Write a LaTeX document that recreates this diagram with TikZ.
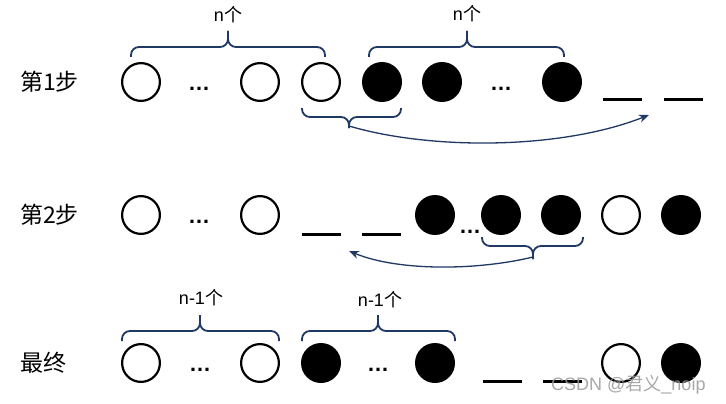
\documentclass[tikz,border=0pt]{standalone}
\usepackage{fontspec}
\setmainfont{Liberation Sans}
\newfontfamily\cjk{Noto Sans CJK SC}
\usetikzlibrary{arrows.meta}
\definecolor{navy}{RGB}{31,56,100}
\newcommand{\mybrace}[6]{% x1 x2 xm yend yline ytip
  \draw[bracestyle] (#1,#4) -- (#1,#5) -- (#3,#5) -- (#3,#6);
  \draw[bracestyle] (#2,#4) -- (#2,#5) -- (#3,#5) -- (#3,#6);
}
\newcommand{\myge}{{\cjk 个}}
\begin{document}
\begin{tikzpicture}[x=1pt,y=-1pt,
  wball/.style={circle,draw=black,line width=2.2pt,minimum size=37.8pt,inner sep=0pt,fill=white},
  bball/.style={circle,fill=black,minimum size=40pt,inner sep=0pt},
  gap/.style={rectangle,fill=black,minimum width=39pt,minimum height=3pt,inner sep=0pt},
  dots/.style={inner sep=0pt,font=\bfseries\fontsize{22}{22}\selectfont},
  rowlabel/.style={inner sep=0pt,anchor=west,font=\cjk\fontsize{23}{23}\selectfont},
  countlabel/.style={inner sep=0pt,font=\fontsize{18}{18}\selectfont},
  bracestyle/.style={draw=navy,line width=1.8pt,rounded corners=8pt},
  movearrow/.style={draw=navy,line width=1.3pt,-{Stealth[length=10pt,width=8pt]}},
]
\useasboundingbox (0,0) rectangle (726,404);
\fill[white] (0,0) rectangle (726,404);

% Row 1
\node[rowlabel] (l1) at (20,82) {第1步};
\node[wball] (a1) at (141,82) {};
\node[dots] (ad1) at (199,89) {…};
\node[wball] (a2) at (260,82) {};
\node[wball] (a3) at (321,82) {};
\node[bball] (a4) at (382,82) {};
\node[bball] (a5) at (442,82) {};
\node[dots] (ad2) at (501,89) {…};
\node[bball] (a6) at (562,82) {};
\node[gap] (ag1) at (622,100) {};
\node[gap] (ag2) at (683,100) {};

\mybrace{131}{325}{228}{57}{47}{31}
\node[countlabel] (n1) at (228,15) {n\myge};
\mybrace{369}{564}{467}{57}{47}{31}
\node[countlabel] (n2) at (467,14) {n\myge};
\mybrace{302}{401}{349}{108}{117}{128}
\coordinate (t1) at (349,126);
\coordinate (e1) at (649,115);
\draw[movearrow] (t1) .. controls (430,150) and (560,150) .. (e1);

% Row 2
\node[rowlabel] (l2) at (20,215) {第2步};
\node[wball] (b1) at (141,215) {};
\node[dots] (bd1) at (199,222) {…};
\node[wball] (b2) at (260,215) {};
\node[gap] (bg1) at (321,234) {};
\node[gap] (bg2) at (381,234) {};
\node[bball] (b3) at (435,215) {};
\node[dots] (bd2) at (470,232) {…};
\node[bball] (b4) at (501,215) {};
\node[bball] (b5) at (561,215) {};
\node[wball] (b6) at (621,215) {};
\node[bball] (b7) at (681,215) {};

\mybrace{482}{583}{533}{237}{246}{259}
\coordinate (t2) at (533,257);
\coordinate (e2) at (349,251);
\draw[movearrow] (t2) .. controls (480,270) and (400,272) .. (e2);

% Row 3
\node[rowlabel] (l3) at (20,363) {最终};
\node[wball] (c1) at (141,363) {};
\node[dots] (cd1) at (200,370) {…};
\node[wball] (c2) at (260,363) {};
\node[bball] (c3) at (321,363) {};
\node[dots] (cd2) at (378,370) {…};
\node[bball] (c4) at (435,363) {};
\node[gap] (cg1) at (502,381) {};
\node[gap] (cg2) at (562,381) {};
\node[wball] (c5) at (621,363) {};
\node[bball] (c6) at (681,363) {};

\mybrace{122}{279}{200}{341}{331}{315}
\node[countlabel] (m1) at (201,298) {n-1\myge};
\mybrace{302}{455}{378}{341}{331}{315}
\node[countlabel] (m2) at (380,300) {n-1\myge};

% watermark
\node[inner sep=0pt,anchor=west,text=black!40,opacity=0.85,font=\fontsize{18}{18}\selectfont] (wm) at (551,385) {CSDN @{\cjk 君义}\_noip};
\end{tikzpicture}
\end{document}
